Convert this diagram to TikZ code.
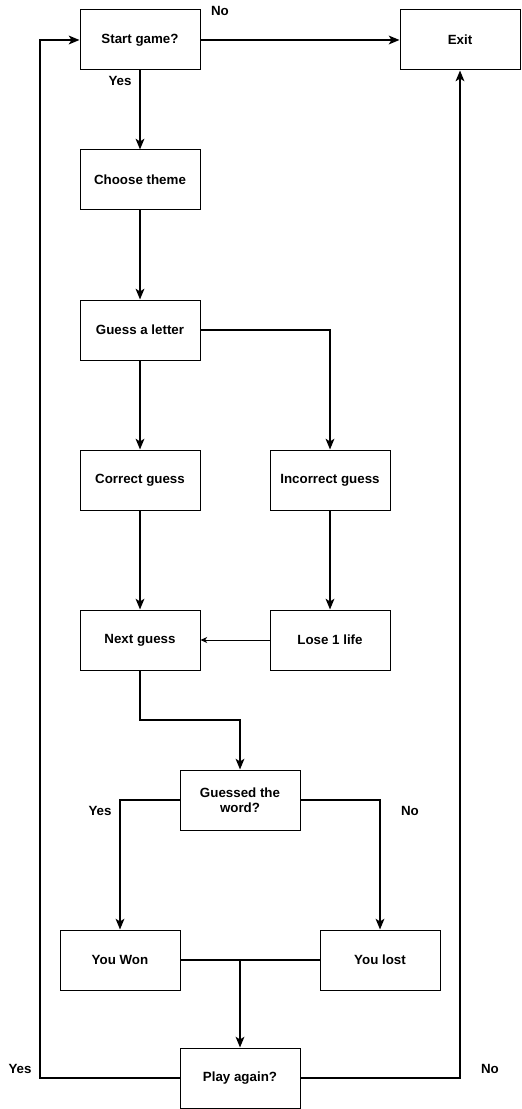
\documentclass[tikz,border=0pt]{standalone}
\usepackage{fontspec}
\setmainfont{Liberation Sans}
\usetikzlibrary{arrows.meta}
\begin{document}
\begin{tikzpicture}[x=0.75pt,y=-0.75pt,
  box/.style={draw=black,line width=0.75pt,minimum width=90pt,minimum height=45pt,inner sep=1pt,align=center,font=\fontsize{10}{11.5}\selectfont\bfseries},
  lbl/.style={font=\fontsize{10}{11.5}\selectfont\bfseries,inner sep=0pt},
  flow/.style={line width=1.5pt,-{Stealth[length=8pt,width=6.5pt,inset=2pt]}},
  seg/.style={line width=1.5pt},
  thin/.style={line width=0.75pt,-{Stealth[length=5pt,width=4.5pt,inset=1.5pt]}}]
\useasboundingbox (0,0) rectangle (521,1109);
\node[box] (start) at (140,40) {Start game?};
\node[box] (exit) at (460,40) {Exit};
\node[box] (theme) at (140,180) {Choose theme};
\node[box] (guess) at (140,330) {Guess a letter};
\node[box] (correct) at (140,480) {Correct guess};
\node[box] (incorrect) at (330,480) {Incorrect guess};
\node[box] (next) at (140,640) {Next guess};
\node[box] (lose) at (330,640) {Lose 1 life};
\node[box] (word) at (240,800) {Guessed the\\word?};
\node[box] (won) at (120,960) {You Won};
\node[box] (lost) at (380,960) {You lost};
\node[box] (again) at (240,1078) {Play again?};
\coordinate (join) at (240,960);
\coordinate (lx) at (40,40);
\coordinate (rx) at (460,1078);

\node[lbl] (no1) at (220,11) {No};
\node[lbl] (yes1) at (120,81) {Yes};
\node[lbl] (yes2) at (100,811) {Yes};
\node[lbl] (no2) at (410,811) {No};
\node[lbl] (yes3) at (20,1069) {Yes};
\node[lbl] (no3) at (490,1069) {No};

\draw[flow] (start) -- (exit);
\draw[flow] (start) -- (theme);
\draw[flow] (theme) -- (guess);
\draw[flow] (guess) -- (correct);
\draw[flow] (guess.east) -| (incorrect.north);
\draw[flow] (correct) -- (next);
\draw[flow] (incorrect) -- (lose);
\draw[thin] (lose) -- (next);
\draw[flow] (next.south) -- (140,720) -| (word.north);
\draw[flow] (word.west) -| (won.north);
\draw[flow] (word.east) -| (lost.north);
\draw[seg] (won.east) -- (join);
\draw[seg] (lost.west) -- (join);
\draw[flow] (join) -- (again.north);
\draw[flow] (again.west) -| (lx) -- (start.west);
\draw[flow] (again.east) -- (rx) -- (exit.south);
\end{tikzpicture}
\end{document}
